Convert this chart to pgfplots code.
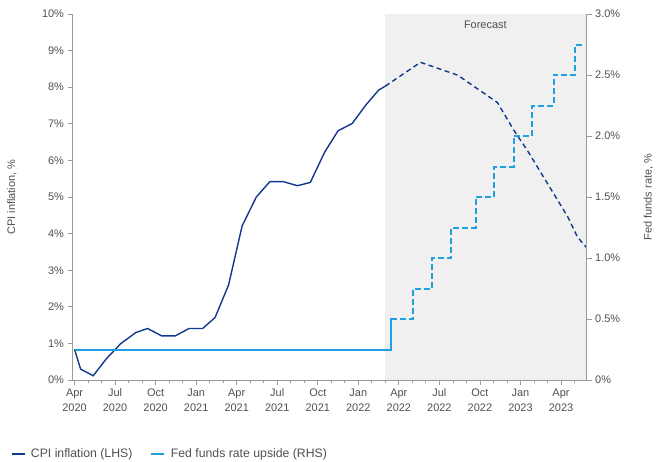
\documentclass[border=0pt]{standalone}
\usepackage{fontspec}
\setmainfont{Liberation Sans}
\usepackage{pgfplots}
\pgfplotsset{compat=1.18}

\definecolor{cpiblue}{RGB}{16,56,140}
\definecolor{fedblue}{RGB}{30,160,225}
\definecolor{fcgray}{RGB}{240,240,240}
\definecolor{axgray}{RGB}{155,155,155}
\definecolor{txtgray}{RGB}{80,80,80}

\pgfplotsset{
  base/.style={
    scale only axis, width=514bp, height=366bp,
    xmin=-0.15, xmax=37.9,
    tick align=outside,
    axis line style={axgray, line width=0.8pt},
    every tick/.style={axgray, line width=0.8pt},
    major tick length=5bp, minor tick length=3bp,
    ticklabel style={font=\fontsize{11}{15}\selectfont, text=txtgray},
    label style={font=\fontsize{11}{13}\selectfont, text=txtgray},
    /pgf/number format/assume math mode=true,
  },
  % fed funds values (right scale, 0-3%) shown on the left scale (0-10%)
  rhs/.style={y filter/.expression={y*10/3}},
}

\begin{document}
\begin{tikzpicture}
\begin{axis}[base, name=ax,
  axis on top,
  axis x line*=bottom, axis y line*=left,
  ymin=0, ymax=10, ytick={0,1,...,10},
  yticklabel={\pgfmathprintnumber{\tick}\%},
  xtick={0,3,...,36}, minor xtick={1,2,...,37},
  xticklabels={{Apr\\2020},{Jul\\2020},{Oct\\2020},{Jan\\2021},{Apr\\2021},{Jul\\2021},{Oct\\2021},{Jan\\2022},{Apr\\2022},{Jul\\2022},{Oct\\2022},{Jan\\2023},{Apr\\2023}},
  xticklabel style={align=center},
  ylabel={CPI inflation, \%},
  ylabel style={at={(axis description cs:-0.118,0.5)}, anchor=center},
  legend columns=2,
  legend cell align=left,
  legend style={at={(axis description cs:-0.12,-0.202)}, anchor=west,
    draw=none, fill=none, inner sep=0pt,
    font=\fontsize{12.3}{14}\selectfont, text=txtgray,
    nodes={inner xsep=5.5bp, inner ysep=2bp},
    /tikz/every even column/.append style={column sep=12.5bp}},
  legend image code/.code={\draw[#1] (0bp,0bp) -- (13bp,0bp);},
  ]
  % forecast area
  \fill[fcgray] (axis cs:23.0,0) rectangle (axis cs:37.9,10);
  \node[text=txtgray, font=\fontsize{11}{13}\selectfont] at (axis cs:30.4,9.7) {Forecast};

  % CPI actual
  \addplot[draw=cpiblue, line width=1.4pt] coordinates {
    (0,0.84) (0.45,0.30) (1.38,0.12) (2.37,0.59) (3.43,1.00) (4.54,1.30)
    (5.4,1.41) (6.44,1.21) (7.46,1.21) (8.47,1.41) (9.48,1.41) (10.4,1.71)
    (11.4,2.60) (12.4,4.21) (13.45,5.00) (14.45,5.42) (15.45,5.42) (16.5,5.31)
    (17.45,5.40) (18.5,6.22) (19.5,6.81) (20.55,7.01) (21.55,7.51) (22.5,7.92)
    (23.0,8.03)
  };
  \addlegendentry{CPI inflation (LHS)}
  % CPI forecast
  \addplot[draw=cpiblue, line width=1.4pt, dash pattern=on 5bp off 3.5bp, forget plot] coordinates {
    (23.0,8.03) (25.6,8.68) (28.35,8.33) (31.3,7.58) (32.5,6.83) (33.5,6.28)
    (35.0,5.37) (36.5,4.46) (37.2,3.92) (37.85,3.63)
  };
  % Fed funds actual (RHS values)
  \addplot[draw=fedblue, line width=2bp, rhs] coordinates {
    (0,0.25) (23.45,0.25) (23.45,0.5) (23.65,0.5)
  };
  \addlegendentry{Fed funds rate upside (RHS)}
  % Fed funds upside path (RHS values)
  \addplot[draw=fedblue, line width=2bp, rhs, dash pattern=on 6bp off 3bp, forget plot] coordinates {
    (23.45,0.5) (25.05,0.5) (25.05,0.75) (26.45,0.75) (26.45,1.0)
    (27.85,1.0) (27.85,1.25) (29.7,1.25) (29.7,1.5) (31.05,1.5)
    (31.05,1.75) (32.5,1.75) (32.5,2.0) (33.85,2.0) (33.85,2.25)
    (35.45,2.25) (35.45,2.5) (37.05,2.5) (37.05,2.75) (37.7,2.75)
  };
\end{axis}

\begin{axis}[base,
  axis x line=none, axis y line*=right,
  ymin=0, ymax=3,
  ytick={0,0.5,1,1.5,2,2.5,3},
  yticklabels={0\%,0.5\%,1.0\%,1.5\%,2.0\%,2.5\%,3.0\%},
  ylabel={Fed funds rate, \%},
  ylabel style={at={(axis description cs:1.12,0.5)}, anchor=center},
  ]
\end{axis}

\pgfresetboundingbox
\path ([xshift=-72.5bp,yshift=-81bp]ax.south west) rectangle ([xshift=82.3bp,yshift=14bp]ax.north east);
\end{tikzpicture}
\end{document}
